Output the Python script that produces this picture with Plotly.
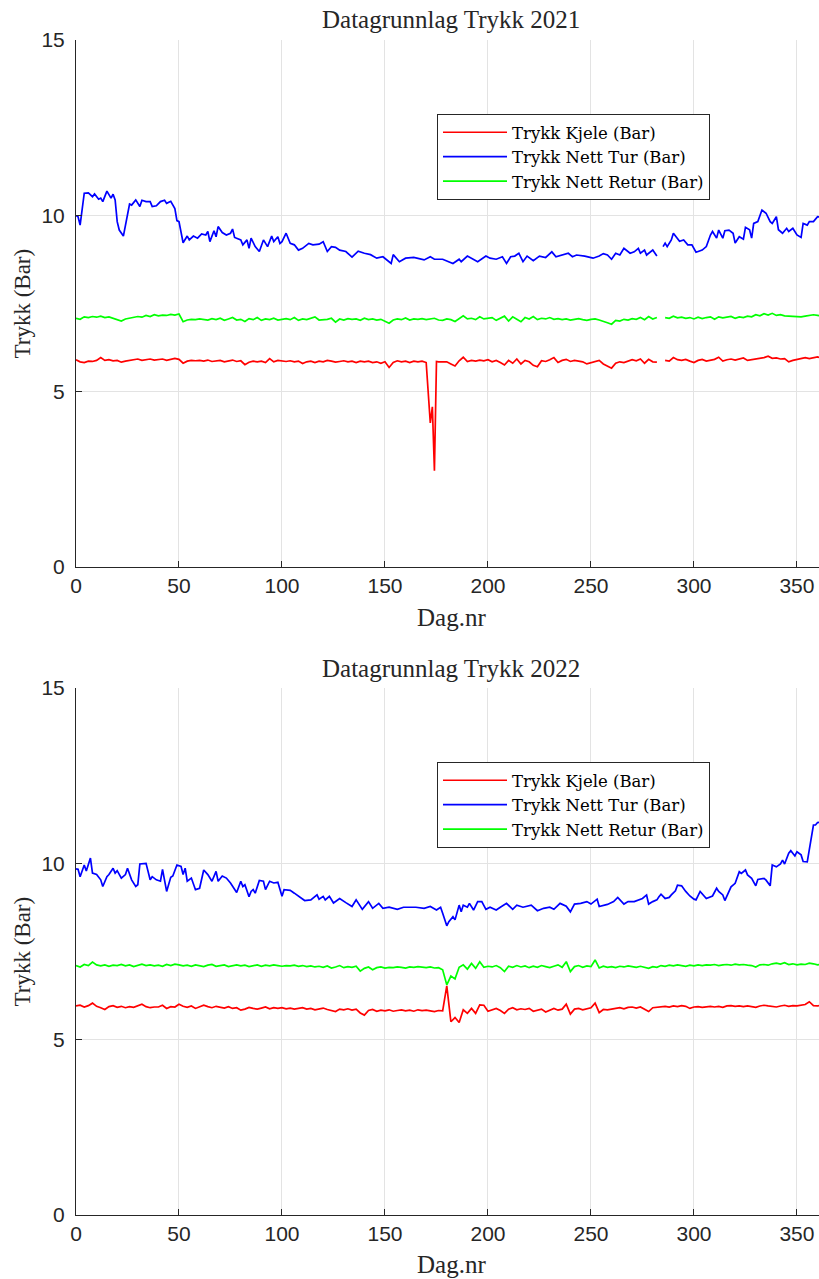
import plotly.graph_objects as go

# ---------------- data ----------------
# day grid used by the daily-sampled (every other day) series
dag_annenhver = list(range(0, 366, 2))

# 2021 -- Trykk Nett Retur (Bar)
retur_2021 = [
    7.08, 7.05, 7.12, 7.10, 7.13, 7.11, 7.14, 7.10, 7.12, 7.08,
    7.05, 7.00, 7.06, 7.08, 7.10, 7.13, 7.11, 7.16, 7.13, 7.18,
    7.15, 7.17, 7.16, 7.19, 7.17, 7.20, 6.98, 7.03, 7.05, 7.04,
    7.06, 7.05, 7.03, 7.07, 7.04, 7.08, 7.02, 7.06, 7.10, 7.03,
    7.05, 6.99, 7.07, 7.04, 7.10, 7.02, 7.06, 7.04, 7.08, 7.03,
    7.05, 7.07, 7.04, 7.10, 7.02, 7.06, 7.04, 7.07, 7.12, 7.03,
    7.03, 7.05, 7.08, 6.97, 7.06, 7.03, 7.07, 7.05, 7.06, 7.02,
    7.08, 7.04, 7.06, 7.03, 7.05, 7.00, 6.94, 7.03, 7.06, 7.04,
    7.09, 7.03, 7.06, 7.05, 7.07, 7.04, 7.06, 7.08, 7.03, 7.02,
    7.06, 7.04, 6.99, 7.08, 7.15, 7.06, 7.08, 7.04, 7.12, 7.06,
    7.08, 7.10, 7.02, 7.07, 7.14, 7.00, 7.12, 7.05, 6.98, 7.10,
    7.06, 7.13, 7.04, 7.08, 7.06, 7.10, 7.05, 7.07, 7.04, 7.06,
    7.03, 7.05, 7.07, 7.04, 7.02, 7.05, 7.06, 7.03, 6.98, 6.95,
    6.91, 7.02, 7.00, 7.05, 7.03, 7.07, 7.05, 7.10, 7.04, 7.13,
    7.06, 7.10, None, 7.10, 7.08, 7.14, 7.09, 7.11, 7.08, 7.10,
    7.06, 7.11, 7.07, 7.10, 7.12, 7.05, 7.12, 7.09, 7.10, 7.13,
    7.08, 7.12, 7.10, 7.14, 7.12, 7.18, 7.15, 7.21, 7.17, 7.22,
    7.16, 7.18, 7.15, 7.14, 7.13, 7.14, 7.12, 7.14, 7.15, 7.18,
    7.16, 7.14, 7.15,
]

# 2021 -- Trykk Kjele (Bar); daily around the pressure drop in late June
kjele_2021_dag = list(range(0, 172, 2)) + [172, 173, 174, 175] + list(range(176, 366, 2))
kjele_2021 = [
    5.90, 5.84, 5.82, 5.86, 5.85, 5.88, 5.96, 5.88, 5.90, 5.87,
    5.88, 5.83, 5.86, 5.88, 5.90, 5.92, 5.88, 5.90, 5.92, 5.89,
    5.91, 5.92, 5.88, 5.90, 5.94, 5.91, 5.80, 5.86, 5.88, 5.87,
    5.88, 5.86, 5.89, 5.85, 5.87, 5.88, 5.84, 5.86, 5.89, 5.85,
    5.87, 5.76, 5.83, 5.86, 5.84, 5.86, 5.82, 5.93, 5.84, 5.88,
    5.86, 5.85, 5.87, 5.84, 5.86, 5.79, 5.84, 5.86, 5.82, 5.86,
    5.84, 5.88, 5.86, 5.83, 5.85, 5.87, 5.84, 5.86, 5.82, 5.86,
    5.84, 5.86, 5.82, 5.84, 5.80, 5.84, 5.68, 5.82, 5.87, 5.84,
    5.86, 5.82, 5.86, 5.84, 5.86, 5.82,
    4.10, 4.56, 2.74, 5.85,
    5.84, 5.85, 5.84, 5.78, 5.72, 5.87, 5.97, 5.85, 5.88, 5.86,
    5.89, 5.87, 5.90, 5.84, 5.88, 5.82, 5.75, 5.88, 5.80, 5.92,
    5.78, 5.88, 5.84, 5.74, 5.70, 5.87, 5.85, 5.90, 5.96, 5.82,
    5.88, 5.91, 5.85, 5.88, 5.87, 5.84, 5.78, 5.82, 5.85, 5.88,
    5.78, 5.72, 5.66, 5.80, 5.84, 5.82, 5.86, 5.90, 5.87, 5.92,
    5.80, 5.91, 5.84, 5.83, None, 5.88, 5.86, 5.96, 5.90, 5.88,
    5.91, 5.86, 5.82, 5.88, 5.91, 5.86, 5.89, 5.91, 5.97, 5.86,
    5.90, 5.92, 5.89, 5.92, 5.95, 5.88, 5.90, 5.91, 5.93, 5.96,
    6.00, 5.94, 5.95, 5.92, 5.93, 5.84, 5.88, 5.91, 5.93, 5.96,
    5.93, 5.95, 5.98, 5.94, 5.93,
]

# 2021 -- Trykk Nett Tur (Bar)
tur_2021_dag = [
    0, 1, 2, 4, 6, 8, 9, 11, 12, 13, 15, 17, 18, 19, 20, 21, 23, 25, 26, 27,
    29, 31, 32, 34, 36, 37, 39, 41, 43, 44, 46, 48, 49, 50, 52, 54, 55, 57, 59, 61,
    63, 64, 65, 67, 68, 69, 71, 73, 75, 76, 77, 80, 81, 83, 84, 85, 87, 89, 91, 93,
    95, 96, 98, 99, 100, 102, 104, 106, 108, 110, 113, 115, 118, 120, 122, 124, 126, 128, 131, 134,
    137, 140, 143, 146, 149, 153, 154, 157, 160, 164, 166, 169, 172, 174, 178, 181, 183, 186, 187, 190,
    193, 195, 199, 201, 204, 207, 209, 211, 213, 215, 217, 219, 222, 225, 228, 231, 233, 236, 239, 241,
    243, 247, 249, 251, 254, 256, 258, 260, 262, 264, 266, 269, 271, 273, 274, 276, 277, 279, 280, 282,
    283, 285, 286, 287, 289, 290, 292, 293, 295, 297, 299, 301, 304, 306, 308, 309, 311, 312, 314, 315,
    317, 319, 320, 322, 324, 325, 327, 328, 329, 331, 333, 335, 337, 338, 340, 341, 343, 345, 346, 348,
    350, 352, 353, 355, 356, 358, 360, 362, 364,
]
tur_2021 = [
    10.00, 9.97, 9.73, 10.64, 10.65, 10.54, 10.62, 10.47, 10.50, 10.40, 10.70, 10.50, 10.61, 10.45, 9.83, 9.59, 9.42, 10.07, 10.33, 10.30,
    10.45, 10.26, 10.44, 10.40, 10.40, 10.26, 10.28, 10.40, 10.44, 10.35, 10.41, 10.20, 9.86, 9.83, 9.23, 9.42, 9.31, 9.42, 9.36, 9.48,
    9.45, 9.55, 9.26, 9.57, 9.40, 9.69, 9.52, 9.45, 9.50, 9.62, 9.38, 9.31, 9.17, 9.31, 9.07, 9.36, 9.12, 8.98, 9.31, 9.12,
    9.42, 9.26, 9.40, 9.21, 9.26, 9.50, 9.21, 9.17, 9.02, 9.07, 9.21, 9.17, 9.19, 9.26, 8.98, 9.12, 9.10, 9.02, 8.98, 8.82,
    8.99, 8.93, 8.89, 8.79, 8.83, 8.64, 8.89, 8.69, 8.79, 8.81, 8.79, 8.74, 8.83, 8.76, 8.76, 8.69, 8.64, 8.76, 8.69, 8.85,
    8.74, 8.69, 8.85, 8.79, 8.76, 8.83, 8.64, 8.83, 8.85, 8.93, 8.69, 8.85, 8.72, 8.85, 8.81, 8.97, 8.83, 8.89, 8.93, 8.83,
    8.88, 8.85, 8.83, 8.79, 8.85, 8.92, 8.88, 8.76, 8.93, 8.88, 9.07, 8.93, 8.97, 9.07, 8.93, 9.02, 8.88, 8.97, 9.02, 8.85,
    None, 9.12, 9.22, 9.12, 9.31, 9.50, 9.36, 9.27, 9.31, 9.17, 9.17, 8.96, 9.02, 9.12, 9.45, 9.55, 9.36, 9.59, 9.36, 9.57,
    9.59, 9.50, 9.22, 9.40, 9.33, 9.67, 9.60, 9.36, 9.78, 9.83, 10.16, 10.07, 9.83, 9.78, 9.97, 9.60, 9.50, 9.64, 9.55, 9.64,
    9.45, 9.38, 9.78, 9.73, 9.83, 9.83, 9.97, 9.95, 10.00,
]

# 2022 -- Trykk Nett Retur (Bar)
retur_2022 = [
    7.10, 7.06, 7.13, 7.10, 7.20, 7.12, 7.09, 7.12, 7.08, 7.11,
    7.10, 7.13, 7.09, 7.12, 7.07, 7.11, 7.14, 7.10, 7.12, 7.09,
    7.11, 7.08, 7.13, 7.10, 7.14, 7.12, 7.09, 7.11, 7.08, 7.12,
    7.10, 7.07, 7.11, 7.13, 7.08, 7.10, 7.12, 7.07, 7.10, 7.12,
    7.09, 7.11, 7.07, 7.10, 7.12, 7.08, 7.11, 7.09, 7.12, 7.10,
    7.08, 7.10, 7.09, 7.11, 7.08, 7.10, 7.07, 7.09, 7.06, 7.08,
    7.05, 7.09, 7.03, 7.06, 7.10, 7.04, 7.07, 7.05, 7.08, 6.94,
    7.02, 7.06, 6.98, 7.04, 7.06, 7.03, 7.05, 7.04, 7.06, 7.05,
    7.03, 7.06, 7.05, 7.07, 7.05, 7.04, 7.06, 7.03, 7.04, 6.98,
    6.55, 6.80, 6.72, 7.05, 7.12, 7.00, 7.16, 7.02, 7.21, 7.05,
    7.08, 7.06, 7.10, 7.04, 6.93, 7.08, 7.05, 7.10, 7.06, 7.09,
    7.04, 7.08, 7.05, 7.10, 7.07, 7.04, 7.08, 7.12, 7.05, 7.21,
    6.93, 7.07, 7.10, 7.05, 7.09, 7.07, 7.26, 7.03, 7.08, 7.05,
    7.07, 7.04, 7.08, 7.06, 7.09, 7.07, 7.05, 7.08, 7.06, 7.02,
    7.07, 7.05, 7.10, 7.08, 7.11, 7.09, 7.12, 7.10, 7.08, 7.11,
    7.09, 7.12, 7.10, 7.12, 7.11, 7.13, 7.10, 7.12, 7.13, 7.11,
    7.14, 7.12, 7.13, 7.11, 7.10, 7.06, 7.12, 7.13, 7.11, 7.15,
    7.17, 7.14, 7.18, 7.13, 7.15, 7.12, 7.14, 7.13, 7.17, 7.15,
    7.12, 7.14, 7.13,
]

# 2022 -- Trykk Kjele (Bar)
kjele_2022 = [
    5.95, 5.97, 5.92, 5.96, 6.03, 5.94, 5.90, 5.85, 5.93, 5.96,
    5.91, 5.94, 5.90, 5.93, 5.91, 5.95, 6.00, 5.93, 5.90, 5.92,
    5.92, 5.97, 5.88, 5.93, 5.92, 6.00, 5.94, 5.91, 5.95, 5.88,
    5.92, 5.97, 5.93, 5.90, 5.94, 5.91, 5.89, 5.93, 5.88, 5.90,
    5.83, 5.86, 5.91, 5.88, 5.86, 5.89, 5.92, 5.87, 5.90, 5.88,
    5.90, 5.87, 5.89, 5.86, 5.88, 5.90, 5.86, 5.88, 5.84, 5.86,
    5.89, 5.85, 5.83, 5.79, 5.86, 5.84, 5.87, 5.83, 5.86, 5.75,
    5.69, 5.82, 5.85, 5.80, 5.83, 5.81, 5.84, 5.80, 5.82, 5.84,
    5.81, 5.83, 5.80, 5.84, 5.82, 5.83, 5.81, 5.79, 5.82, 5.81,
    6.52, 5.50, 5.62, 5.48, 5.84, 5.74, 5.88, 5.74, 5.98, 5.97,
    5.80, 5.84, 5.88, 5.82, 5.74, 5.86, 5.90, 5.84, 5.87, 5.85,
    5.88, 5.80, 5.84, 5.86, 5.78, 5.84, 5.88, 5.83, 5.86, 6.00,
    5.72, 5.86, 5.88, 5.84, 5.86, 5.90, 6.03, 5.76, 5.85, 5.84,
    5.86, 5.88, 5.90, 5.87, 5.91, 5.92, 5.89, 5.92, 5.86, 5.79,
    5.90, 5.91, 5.93, 5.94, 5.92, 5.95, 5.93, 5.96, 5.94, 5.88,
    5.92, 5.93, 5.91, 5.93, 5.94, 5.92, 5.94, 5.91, 5.95, 5.96,
    5.94, 5.95, 5.93, 5.95, 5.94, 5.91, 5.95, 5.97, 5.95, 5.93,
    5.92, 5.95, 5.97, 5.94, 5.96, 5.95, 5.97, 5.99, 6.07, 5.96,
    5.95, 5.98, 5.97,
]

# 2022 -- Trykk Nett Tur (Bar)
tur_2022_dag = [
    0, 1, 2, 4, 5, 7, 8, 10, 12, 13, 15, 16, 18, 19, 20, 22, 24, 25, 27, 29,
    30, 31, 34, 36, 37, 39, 41, 42, 44, 46, 47, 49, 51, 52, 53, 54, 56, 58, 60, 62,
    64, 66, 68, 69, 71, 73, 75, 76, 78, 80, 81, 82, 84, 85, 86, 87, 89, 91, 92, 94,
    96, 98, 100, 101, 104, 106, 108, 111, 114, 117, 118, 120, 121, 123, 125, 126, 128, 131, 134, 136,
    139, 142, 144, 147, 149, 152, 156, 159, 162, 165, 169, 172, 175, 177, 178, 180, 181, 183, 184, 186,
    187, 188, 190, 191, 193, 195, 197, 199, 201, 204, 206, 209, 212, 214, 217, 221, 224, 227, 230, 232,
    235, 238, 240, 242, 245, 248, 250, 253, 254, 256, 258, 261, 263, 266, 268, 271, 273, 275, 277, 278,
    280, 282, 283, 284, 286, 288, 289, 291, 292, 294, 296, 298, 300, 301, 303, 305, 306, 309, 311, 312,
    314, 315, 317, 318, 320, 322, 323, 325, 326, 328, 330, 331, 334, 335, 337, 338, 340, 342, 343, 344,
    346, 347, 349, 350, 352, 353, 355, 356, 357, 358, 359, 360, 362, 364,
]
tur_2022 = [
    9.85, 9.84, 9.63, 9.96, 9.79, 10.16, 9.73, 9.69, 9.54, 9.35, 9.63, 9.69, 9.87, 9.73, 9.80, 9.59, 9.69, 9.87, 9.54, 9.35,
    9.40, 9.99, 10.01, 9.54, 9.63, 9.54, 9.50, 9.84, 9.21, 9.61, 9.65, 9.96, 9.92, 9.69, 9.87, 9.50, 9.59, 9.26, 9.30, 9.82,
    9.69, 9.50, 9.78, 9.50, 9.65, 9.59, 9.45, 9.35, 9.18, 9.50, 9.35, 9.40, 9.06, 9.21, 9.26, 9.16, 9.52, 9.50, 9.26, 9.50,
    9.45, 9.47, 9.07, 9.26, 9.24, 9.16, 9.07, 8.95, 8.97, 9.11, 8.99, 9.07, 8.97, 9.07, 8.88, 8.92, 9.01, 8.89, 8.78, 8.97,
    8.70, 8.92, 8.73, 8.87, 8.73, 8.76, 8.70, 8.76, 8.76, 8.76, 8.73, 8.78, 8.68, 8.76, 8.59, 8.23, 8.35, 8.49, 8.40, 8.82,
    8.63, 8.82, 8.76, 8.87, 8.68, 8.92, 8.92, 8.70, 8.76, 8.68, 8.76, 8.87, 8.70, 8.82, 8.76, 8.82, 8.66, 8.73, 8.76, 8.70,
    8.87, 8.79, 8.63, 8.85, 8.87, 8.92, 8.85, 8.99, 8.78, 8.80, 8.84, 8.92, 9.04, 8.85, 8.92, 8.92, 8.97, 9.01, 9.11, 8.85,
    8.92, 8.97, 9.06, 9.13, 9.01, 9.04, 9.11, 9.23, 9.39, 9.37, 9.21, 9.08, 8.99, 8.97, 9.21, 9.08, 9.01, 9.08, 9.30, 9.21,
    9.11, 8.95, 9.21, 9.34, 9.44, 9.77, 9.72, 9.82, 9.68, 9.58, 9.37, 9.55, 9.58, 9.53, 9.37, 9.96, 9.91, 9.99, 10.10, 9.99,
    10.30, 10.37, 10.22, 10.34, 10.25, 10.06, 10.05, 10.39, 10.82, 11.10, 11.10, 11.17, 11.18, 11.15,
]

x_ticks = [0, 50, 100, 150, 200, 250, 300, 350]
y_ticks = [0, 5, 10, 15]
serie_navn = ["Trykk Kjele (Bar)", "Trykk Nett Tur (Bar)", "Trykk Nett Retur (Bar)"]
farger = ["#ff0000", "#0000ff", "#00ff00"]

# ---------------- figure ----------------
W, H = 819, 1279
ML, MR, MT, MB = 76, 0, 40, 64
PW, PH = W - ML - MR, H - MT - MB

def px_x(x):
    return (x - ML) / PW

def px_y(y):
    return (H - MB - y) / PH

fig = go.Figure()

aar = [
    ("x", "y", "legend", [(kjele_2021_dag, kjele_2021), (tur_2021_dag, tur_2021), (dag_annenhver, retur_2021)]),
    ("x2", "y2", "legend2", [(dag_annenhver, kjele_2022), (tur_2022_dag, tur_2022), (dag_annenhver, retur_2022)]),
]
for xa, ya, lg, serier in aar:
    for (dager, verdier), navn, farge in zip(serier, serie_navn, farger):
        fig.add_trace(go.Scatter(
            x=dager, y=verdier, mode="lines", name=navn,
            line=dict(color=farge, width=1.7),
            xaxis=xa, yaxis=ya, legend=lg, connectgaps=False,
        ))

tick_font = dict(family="Liberation Sans Narrow, Liberation Sans, Arial", size=21, color="#262626")
serif = "Liberation Serif, Times New Roman, serif"

def x_akse(anchor):
    return dict(
        range=[0, 360.7], tickvals=x_ticks, ticks="inside", ticklen=6, tickcolor="#262626",
        showline=True, linecolor="#262626", linewidth=1, mirror=False,
        showgrid=True, gridcolor="#e3e3e3", gridwidth=1, zeroline=False,
        tickfont=tick_font, anchor=anchor,
    )

def y_akse(anchor, domain):
    return dict(
        range=[0, 15], tickvals=y_ticks, ticks="inside", ticklen=6, tickcolor="#262626",
        showline=True, linecolor="#262626", linewidth=1, mirror=False,
        showgrid=True, gridcolor="#e3e3e3", gridwidth=1, zeroline=False,
        tickfont=tick_font, anchor=anchor, domain=domain, ticklabelstandoff=6,
    )

top_dom = [px_y(567), 1.0]
bot_dom = [0.0, px_y(688)]

legend_stil = dict(
    bgcolor="white", bordercolor="#262626", borderwidth=1,
    font=dict(family="DejaVu Serif, Liberation Serif, serif", size=16.5, color="#000000"),
    xanchor="left", yanchor="top", itemwidth=64, tracegroupgap=0,
)

fig.update_layout(
    width=W, height=H,
    margin=dict(l=ML, r=MR, t=MT, b=MB),
    paper_bgcolor="white", plot_bgcolor="white",
    xaxis=x_akse("y"), yaxis=y_akse("x", top_dom),
    xaxis2=x_akse("y2"), yaxis2=y_akse("x2", bot_dom),
    legend=dict(legend_stil, x=px_x(437), y=px_y(114)),
    legend2=dict(legend_stil, x=px_x(437), y=px_y(762)),
    showlegend=True,
)

tekster = [
    ("Datagrunnlag Trykk 2021", px_x(451), px_y(20), 0, 25),
    ("Datagrunnlag Trykk 2022", px_x(451), px_y(668), 0, 25),
    ("Dag.nr", px_x(451), px_y(617), 0, 25),
    ("Dag.nr", px_x(451), px_y(1264), 0, 25),
    ("Trykk (Bar)", px_x(22), px_y(303.5), -90, 23),
    ("Trykk (Bar)", px_x(22), px_y(951.5), -90, 23),
]
for tekst, x, y, vinkel, str_ in tekster:
    fig.add_annotation(
        text=tekst, x=x, y=y, xref="paper", yref="paper",
        xanchor="center", yanchor="middle", showarrow=False, textangle=vinkel,
        font=dict(family=serif, size=str_, color="#262626"),
    )

fig.write_html("out.html")
